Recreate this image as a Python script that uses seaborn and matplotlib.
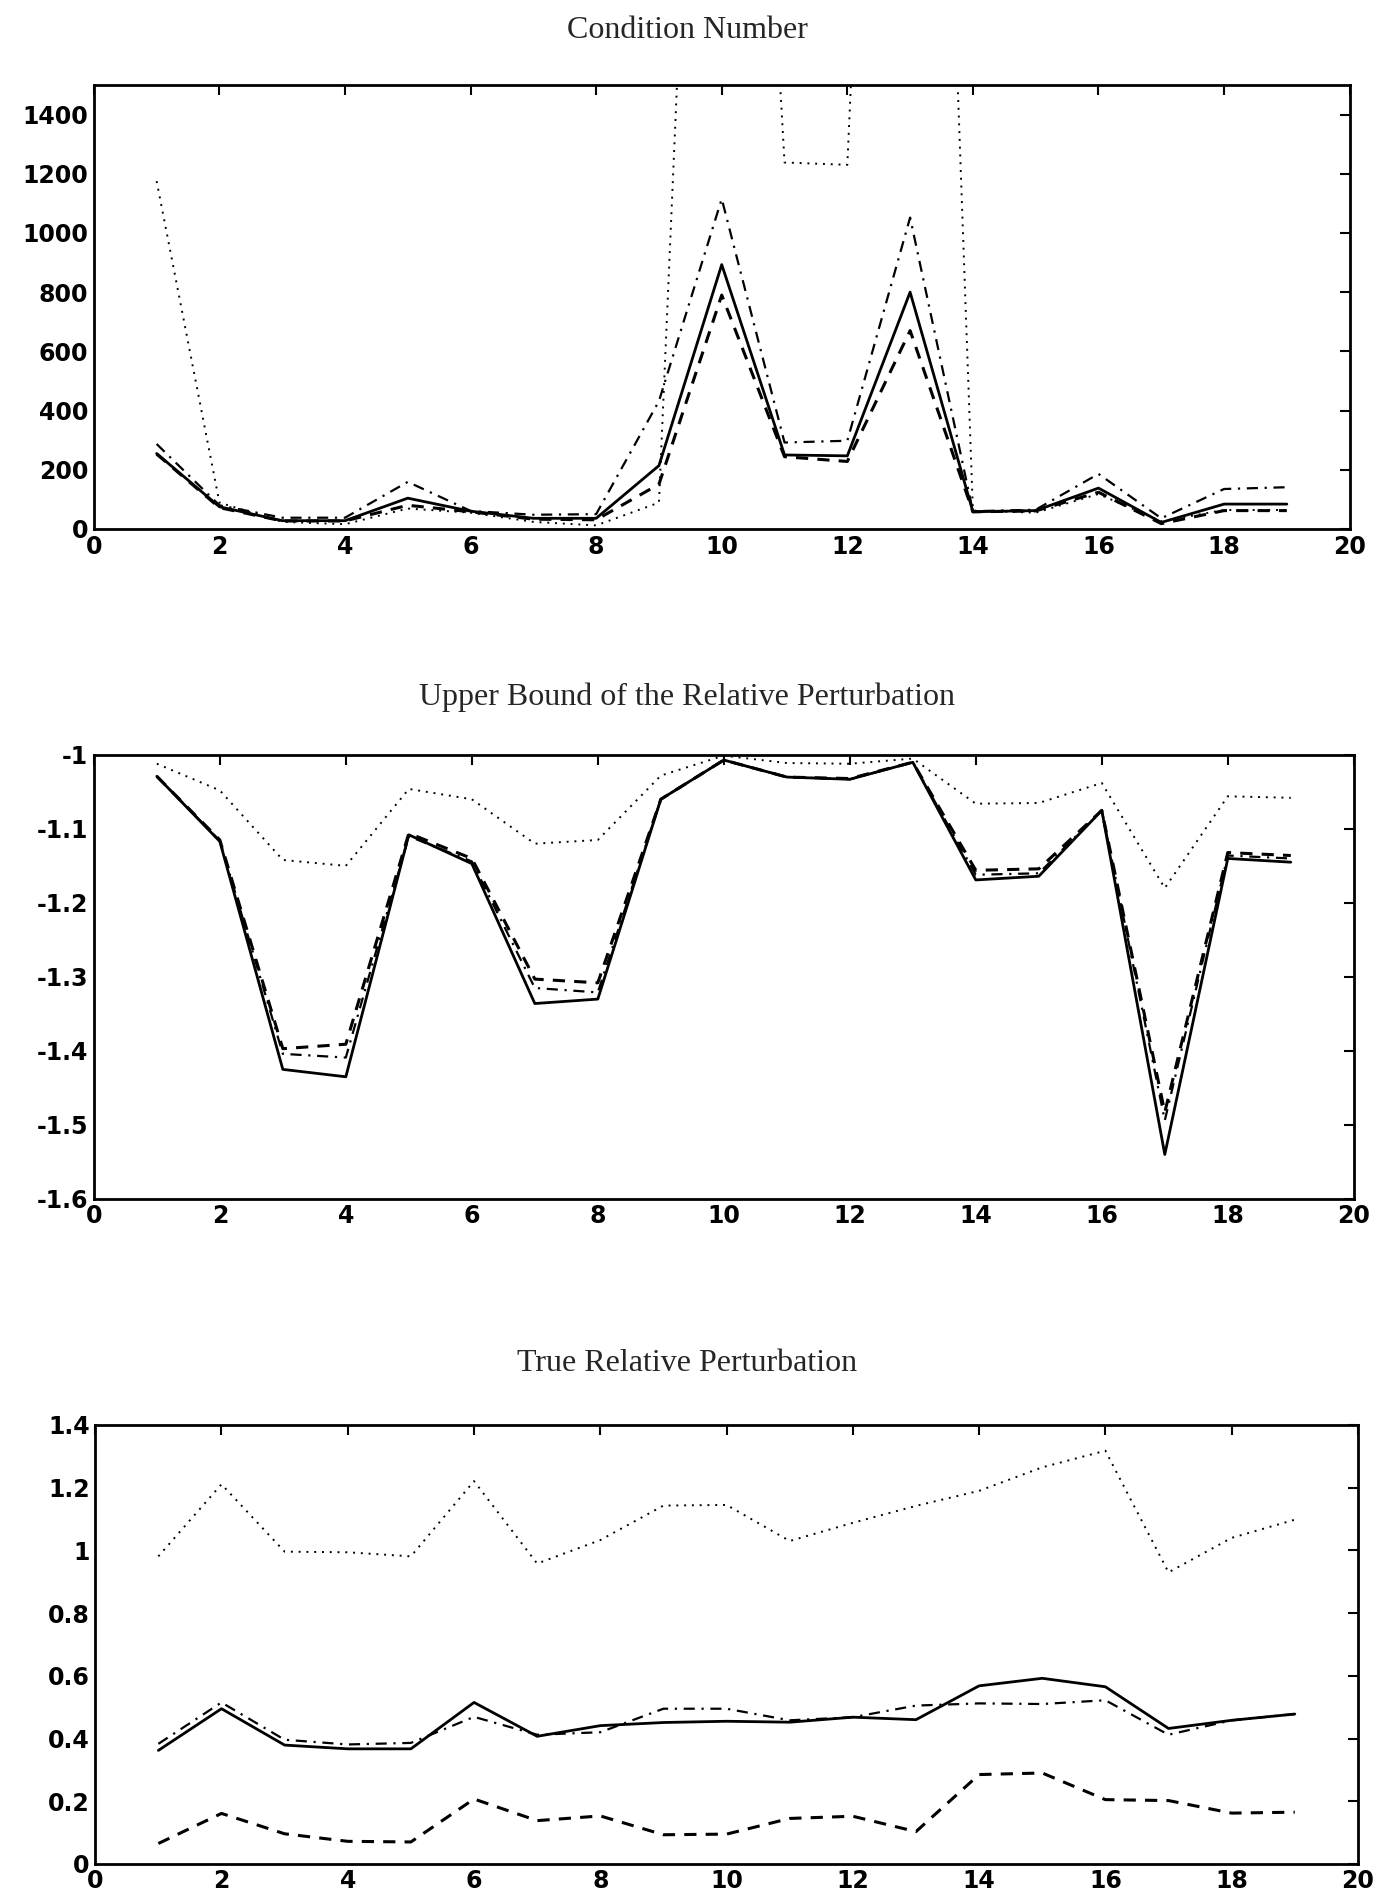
import matplotlib
matplotlib.use("Agg")
import matplotlib.pyplot as plt
import seaborn as sns
import numpy as np

# experiment index
x = list(range(1, 20))

# condition number
cond_solid = [255, 75, 28, 28, 104, 60, 36, 36, 214, 893, 250, 247, 800, 58, 62, 138, 22, 84, 84]
cond_dashed = [253, 72, 27, 27, 80, 58, 33, 31, 151, 790, 244, 228, 670, 58, 61, 124, 18, 62, 62]
cond_dashdot = [287, 80, 38, 38, 159, 61, 48, 50, 432, 1115, 292, 298, 1052, 60, 65, 186, 36, 135, 141]
cond_dotted = [1175, 89, 24, 16, 69, 55, 24, 12, 89, 5000, 1238, 1230, 6000, 62, 55, 118, 26, 64, 64]

# upper bound of the relative perturbation
ub_solid = [-1.029, -1.117, -1.425, -1.435, -1.108, -1.147, -1.336, -1.330, -1.060, -1.007,
            -1.030, -1.033, -1.010, -1.169, -1.164, -1.075, -1.540, -1.140, -1.145]
ub_dashed = [-1.029, -1.115, -1.397, -1.391, -1.106, -1.140, -1.303, -1.308, -1.060, -1.007,
             -1.030, -1.032, -1.010, -1.156, -1.154, -1.075, -1.483, -1.132, -1.136]
ub_dashdot = [-1.029, -1.116, -1.404, -1.409, -1.110, -1.144, -1.315, -1.321, -1.060, -1.007,
              -1.030, -1.033, -1.010, -1.162, -1.160, -1.075, -1.494, -1.136, -1.140]
ub_dotted = [-1.012, -1.048, -1.142, -1.150, -1.046, -1.060, -1.120, -1.115, -1.028, -1.001,
             -1.011, -1.012, -1.005, -1.066, -1.065, -1.038, -1.180, -1.056, -1.058]

# true relative perturbation
tr_solid = [0.362, 0.495, 0.379, 0.367, 0.367, 0.515, 0.407, 0.441, 0.451, 0.455,
            0.452, 0.468, 0.460, 0.568, 0.592, 0.565, 0.432, 0.458, 0.478]
tr_dashed = [0.065, 0.161, 0.096, 0.072, 0.070, 0.207, 0.138, 0.153, 0.093, 0.095,
             0.145, 0.152, 0.103, 0.285, 0.290, 0.205, 0.202, 0.162, 0.165]
tr_dashdot = [0.383, 0.515, 0.396, 0.381, 0.386, 0.469, 0.412, 0.420, 0.495, 0.495,
              0.458, 0.468, 0.505, 0.512, 0.510, 0.522, 0.412, 0.458, 0.478]
tr_dotted = [0.981, 1.211, 0.996, 0.994, 0.981, 1.221, 0.958, 1.033, 1.143, 1.145,
             1.030, 1.088, 1.142, 1.190, 1.265, 1.318, 0.930, 1.040, 1.098]

titles = ["Condition Number", "Upper Bound of the Relative Perturbation", "True Relative Perturbation"]
yticks = [np.arange(0, 1401, 200), np.round(np.arange(-1.6, -0.95, 0.1), 1), np.round(np.arange(0, 1.41, 0.2), 1)]
ylabels = [[str(v) for v in yticks[0]],
           ["-1.6", "-1.5", "-1.4", "-1.3", "-1.2", "-1.1", "-1"],
           ["0", "0.2", "0.4", "0.6", "0.8", "1", "1.2", "1.4"]]
ylims = [(0, 1500), (-1.6, -1.0), (0, 1.4)]
xticks = list(range(0, 21, 2))

sns.set_style("white")
plt.rcParams["font.family"] = ["DejaVu Sans"]

fig = plt.figure(figsize=(13.8, 19), dpi=100)
boxes = [[0.068, 0.7216, 0.910, 0.2337],
         [0.068, 0.369, 0.913, 0.2337],
         [0.069, 0.019, 0.915, 0.2310]]
title_y = [0.984, 0.633, 0.2826]

panels = [(cond_solid, cond_dashed, cond_dashdot, cond_dotted),
          (ub_solid, ub_dashed, ub_dashdot, ub_dotted),
          (tr_solid, tr_dashed, tr_dashdot, tr_dotted)]

for i, (s, d, dd, dt) in enumerate(panels):
    ax = fig.add_axes(boxes[i])
    sns.lineplot(x=x, y=s, ax=ax, color="black", linewidth=2.0, linestyle="-")
    sns.lineplot(x=x, y=d, ax=ax, color="black", linewidth=2.2,
                 linestyle=(0, (4, 3)))
    sns.lineplot(x=x, y=dd, ax=ax, color="black", linewidth=1.6,
                 linestyle=(0, (5, 3, 1, 3)))
    sns.lineplot(x=x, y=dt, ax=ax, color="black", linewidth=1.4,
                 linestyle=(0, (1, 3)))
    ax.set_xlim(0, 20)
    ax.set_ylim(*ylims[i])
    ax.set_xticks(xticks)
    ax.set_yticks(yticks[i])
    ax.set_yticklabels(ylabels[i])
    ax.tick_params(direction="in", length=7, width=1.5, top=True, right=True,
                   labelsize=17, pad=4, colors="black")
    for lab in ax.get_xticklabels() + ax.get_yticklabels():
        lab.set_fontweight("bold")
    for sp in ax.spines.values():
        sp.set_linewidth(2.0)
        sp.set_color("black")
    fig.text(0.498, title_y[i], titles[i], ha="center", va="center",
             fontsize=23, family="Liberation Serif")

fig.savefig("out.png", dpi=100, facecolor="white")
